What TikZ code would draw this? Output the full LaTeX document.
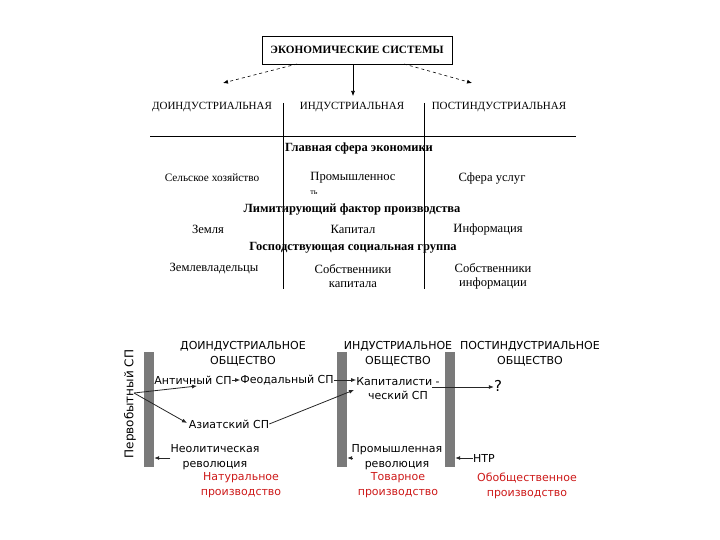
\documentclass[tikz,border=0pt]{standalone}
\usepackage{fontspec}
\setmainfont{Liberation Serif}
\newfontfamily\dvs{DejaVu Sans}
\usetikzlibrary{arrows.meta}
\definecolor{redtxt}{RGB}{205,25,25}
\definecolor{bargray}{RGB}{122,122,122}
\begin{document}
\begin{tikzpicture}[x=1pt,y=-1pt,
  ser/.style={font=\fontsize{12.6}{14}\selectfont, inner sep=0pt, align=center},
  hdr/.style={font=\fontsize{11}{13}\selectfont, inner sep=0pt},
  serb/.style={font=\fontsize{12.5}{14}\selectfont\bfseries, inner sep=0pt},
  sans/.style={font=\dvs\fontsize{11}{15}\selectfont, inner sep=0pt, align=center},
  redsans/.style={sans, text=redtxt},
  bar/.style={fill=bargray, draw=none, inner sep=0pt, minimum width=10pt, minimum height=115pt},
  arr/.style={-{Latex[length=5pt,width=4pt]}, line width=0.8pt, draw=black!85},
  tarr/.style={-{Latex[length=5pt,width=4pt]}, line width=0.6pt},
  thin line/.style={line width=0.7pt}
]
\useasboundingbox (0,0) rectangle (720,540);

% ---------- top part ----------
\node[draw, line width=0.8pt, minimum width=190pt, minimum height=28pt, inner sep=0pt,
      font=\fontsize{11.2}{13}\selectfont\bfseries] (es) at (357,50) {ЭКОНОМИЧЕСКИЕ СИСТЕМЫ};

\node[hdr] (l1) at (212,107) {ДОИНДУСТРИАЛЬНАЯ};
\node[hdr] (l2) at (352,107) {ИНДУСТРИАЛЬНАЯ};
\node[hdr] (l3) at (499,107) {ПОСТИНДУСТРИАЛЬНАЯ};

\coordinate (a1s) at (297,64);
\coordinate (a1e) at (223,83);
\coordinate (a3s) at (404,64);
\coordinate (a3e) at (472,83);
\coordinate (a2e) at (353,96);
\draw[tarr, dashed] (a1s) -- (a1e);
\draw[tarr, dashed] (a3s) -- (a3e);
\draw[tarr] (es.south -| a2e) -- (a2e);

\coordinate (v1t) at (283,103);
\coordinate (v1b) at (283,289);
\coordinate (v2t) at (424,103);
\coordinate (v2b) at (424,289);
\coordinate (h1) at (150,136);
\coordinate (h2) at (576,136);
\draw[thin line] (v1t) -- (v1b);
\draw[thin line] (v2t) -- (v2b);
\draw[thin line] (h1) -- (h2);

\node[serb] (t1) at (359,148) {Главная сфера экономики};
\node[ser, font=\fontsize{11.3}{13}\selectfont] (c11) at (212,178) {Сельское хозяйство};
\node[ser] (c12) at (353,178) {Промышленнос};
\node[ser, font=\fontsize{8}{9}\selectfont] (c12b) at (314,193) {ть};
\node[ser] (c13) at (492,178) {Сфера услуг};

\node[serb] (t2) at (352,210) {Лимитирующий фактор производства};
\node[ser] (c21) at (208,229) {Земля};
\node[ser] (c22) at (353,229) {Капитал};
\node[ser] (c23) at (488,229) {Информация};

\node[serb] (t3) at (353,248) {Господствующая социальная группа};
\node[ser] (c31) at (214,269) {Землевладельцы};
\node[ser] (c32) at (353,276) {Собственники\\капитала};
\node[ser] (c33) at (493,276) {Собственники\\информации};

% ---------- bottom part ----------
\node[bar] (b1) at (149,409.5) {};
\node[bar] (b2) at (342,409.5) {};
\node[bar] (b3) at (450,409.5) {};

\node[sans] (s1) at (243,353.5) {ДОИНДУСТРИАЛЬНОЕ\\ОБЩЕСТВО};
\node[sans] (s2) at (398,353.5) {ИНДУСТРИАЛЬНОЕ\\ОБЩЕСТВО};
\node[sans] (s3) at (530,353.5) {ПОСТИНДУСТРИАЛЬНОЕ\\ОБЩЕСТВО};

\node[sans, font=\dvs\fontsize{12}{14}\selectfont, rotate=90] (perv) at (130,404) {Первобытный СП};
\coordinate (pv) at (134,393);

\node[sans] (ant) at (193,380) {Античный СП};
\node[sans] (feo) at (287,380) {Феодальный СП};
\node[sans] (azi) at (229,424) {Азиатский СП};
\node[sans, font=\dvs\fontsize{11}{13.5}\selectfont] (kap) at (398,388.5) {Капиталисти -\\ческий СП};
\node[font=\dvs\fontsize{15}{17}\selectfont, inner sep=0pt] (q) at (498,386) {?};

\coordinate (antend) at (197,386);
\coordinate (aziend) at (187,423);
\coordinate (kapin) at (354,390);
\coordinate (kapout) at (432,387);

\draw[arr] (pv) -- (antend);
\draw[arr] (pv) -- (aziend);
\draw[arr] (ant.east) -- (feo.west);
\draw[arr] (feo.east) -- (kap.north west |- feo.east);
\draw[arr] (azi.east) -- (kapin);
\draw[arr] (kapout) -- (q.west |- kapout);

\node[sans] (neo) at (215,457) {Неолитическая\\революция};
\node[sans] (prom) at (397,457) {Промышленная\\революция};
\node[sans, anchor=west] (ntr) at (473,458) {НТР};

\draw[arr] (neo.west |- 0,458) -- (b1.east |- 0,458);
\draw[arr] (prom.west |- 0,458) -- (b2.east |- 0,458);
\draw[arr] (ntr.west) -- (b3.east |- ntr.west);

\node[redsans] (r1) at (241,485.5) {Натуральное\\производство};
\node[redsans] (r2) at (398,485.5) {Товарное\\производство};
\node[redsans] (r3) at (527,485.5) {Обобщественное\\производство};
\end{tikzpicture}
\end{document}
